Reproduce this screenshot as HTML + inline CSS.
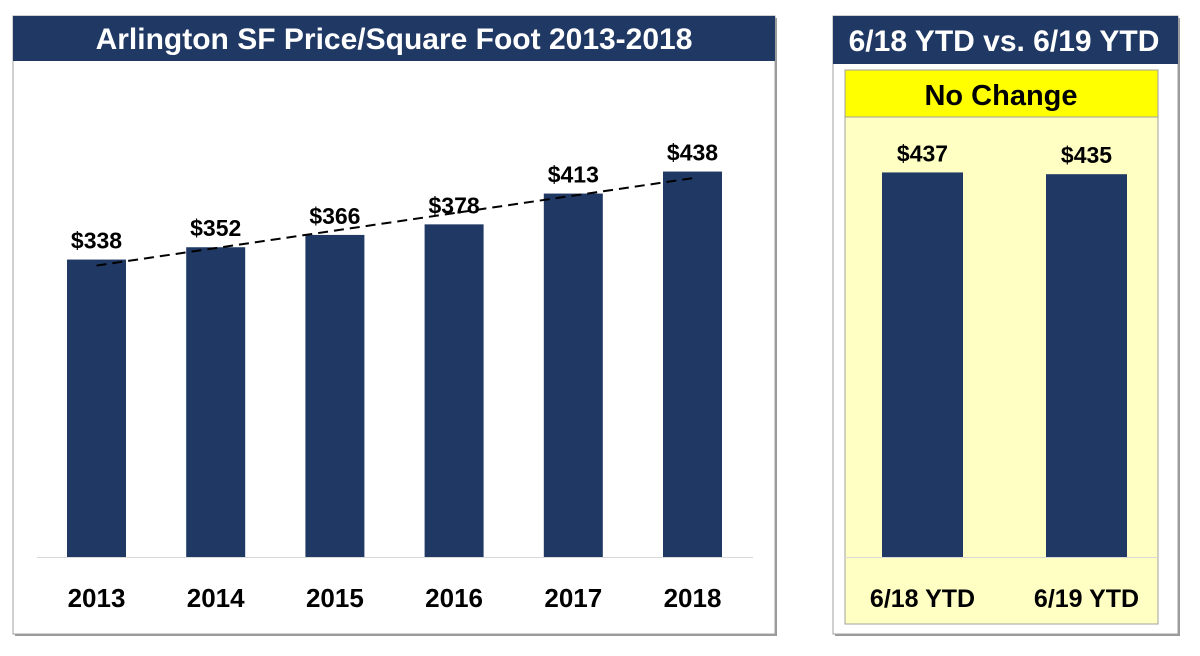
<!DOCTYPE html>
<html><head><meta charset="utf-8"><style>
body{margin:0;width:1200px;height:651px;background:#fff;overflow:hidden;font-family:"Liberation Sans",sans-serif}
svg text{font-family:"Liberation Sans",sans-serif}
</style></head><body>
<svg width="1200" height="651">
<rect x="15" y="18" width="762" height="618" fill="#9a9a9a"/>
<rect x="13" y="16" width="762" height="618" fill="#fff" stroke="#a0a0a0"/>
<rect x="13" y="16" width="762" height="45" fill="#203864"/>
<text x="394" y="49" text-anchor="middle" fill="#fff" font-size="30" font-weight="bold">Arlington SF Price/Square Foot 2013-2018</text>
<line x1="37" y1="557.5" x2="753" y2="557.5" stroke="#d9d9d9"/>
<g id="left"></g>
<rect x="835" y="18" width="345" height="618" fill="#9a9a9a"/>
<rect x="833" y="16" width="345" height="618" fill="#fff" stroke="#a0a0a0"/>
<rect x="833" y="16" width="345" height="48" fill="#203864"/>
<text x="1004" y="51" text-anchor="middle" fill="#fff" font-size="30" font-weight="bold">6/18 YTD vs. 6/19 YTD</text>
<rect x="845" y="70" width="313" height="554" fill="#ffffc4" stroke="#a0a0a0"/>
<rect x="845" y="70" width="313" height="47" fill="#ffff00" stroke="#a0a0a0"/>
<text x="1001" y="105" text-anchor="middle" fill="#000" font-size="29" font-weight="bold">No Change</text>
<line x1="845" y1="557.5" x2="1158" y2="557.5" stroke="#d9d9d9"/>
<g id="right"></g>
</svg>
<script>
const years=["2013","2014","2015","2016","2017","2018"];
const prices=[338,352,366,378,413,438];
const ytdCats=["6/18 YTD","6/19 YTD"];
const ytdVals=[437,435];
const NS="http://www.w3.org/2000/svg";
const base=557, k=0.88;
const yS=v=>base-v*k;
function mk(tag,attrs,parent){const e=document.createElementNS(NS,tag);for(const a in attrs)e.setAttribute(a,attrs[a]);parent.appendChild(e);return e;}
const L=document.getElementById('left');
const xL=i=>96.5+i*119.2;
years.forEach((y,i)=>{
 const b=mk('rect',{x:xL(i)-29.5,y:yS(prices[i]),width:59,height:prices[i]*k,fill:'#1f3864'},L);
 
 
 const t=mk('text',{x:xL(i),y:yS(prices[i])-11,'text-anchor':'middle','font-size':23,'font-weight':'bold'},L);t.textContent='$'+prices[i];
 
 
 const c=mk('text',{x:xL(i),y:607,'text-anchor':'middle','font-size':26,'font-weight':'bold'},L);c.textContent=y;
 
 
});
const n=prices.length,mx=(n-1)/2,my=prices.reduce((a,b)=>a+b)/n;
let sxy=0,sxx=0;prices.forEach((v,i)=>{sxy+=(i-mx)*(v-my);sxx+=(i-mx)*(i-mx);});
const sl=sxy/sxx,ic=my-sl*mx;
const tl=mk('line',{x1:xL(0),y1:yS(ic),x2:xL(n-1),y2:yS(ic+sl*(n-1)),stroke:'#000','stroke-width':2,'stroke-dasharray':'10,6'},L);


const R=document.getElementById('right');
const xR=i=>922.5+i*164;
ytdCats.forEach((c,i)=>{
 const b=mk('rect',{x:xR(i)-40.5,y:yS(ytdVals[i]),width:81,height:ytdVals[i]*k,fill:'#1f3864'},R);
 
 
 const t=mk('text',{x:xR(i),y:yS(ytdVals[i])-11,'text-anchor':'middle','font-size':23,'font-weight':'bold'},R);t.textContent='$'+ytdVals[i];
 
 
 const l=mk('text',{x:xR(i),y:607,'text-anchor':'middle','font-size':25,'font-weight':'bold'},R);l.textContent=c;
 
 
});
</script>
</body></html>
